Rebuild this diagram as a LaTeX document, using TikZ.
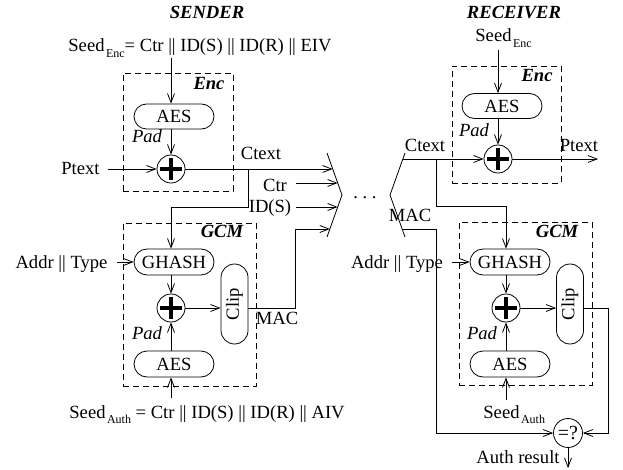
\documentclass[tikz,border=0pt]{standalone}
\usepackage{fontspec}
\setmainfont{Liberation Serif}
\usetikzlibrary{arrows.meta}
\newcommand{\mysub}[1]{\hspace{1.5pt}\raisebox{-5.5pt}{\fontsize{12}{12}\selectfont #1}}
\begin{document}
\begin{tikzpicture}[x=1pt,y=-1pt,
  font=\fontsize{18.6}{20}\selectfont,
  line width=0.8pt,
  >={Straight Barb[length=9pt,width=7pt]},
  lbl/.style={inner sep=0pt, anchor=base},
  bi/.style={lbl, font=\fontsize{18.6}{20}\selectfont\bfseries\itshape},
  itl/.style={lbl, font=\fontsize{18.6}{20}\selectfont\itshape},
  dbox/.style={draw, dash pattern=on 6pt off 4pt, inner sep=0pt},
  rbox/.style={draw, minimum width=80pt, minimum height=25pt, rounded corners=12.5pt, inner sep=0pt},
  rbox2/.style={draw, minimum width=80pt, minimum height=26pt, rounded corners=13pt, inner sep=0pt},
  clipbox/.style={draw, minimum width=27pt, minimum height=80pt, rounded corners=13.5pt, inner sep=0pt},
  xor/.style={draw, circle, minimum size=28pt, inner sep=0pt,
    path picture={\draw[line width=3.5pt]
      ([xshift=-11pt]path picture bounding box.center) -- ([xshift=11pt]path picture bounding box.center)
      ([yshift=-11pt]path picture bounding box.center) -- ([yshift=11pt]path picture bounding box.center);}},
]
\useasboundingbox (0,0) rectangle (623,470);

% ---------------- SENDER ----------------
\node[bi] (sender) at (207,19) {SENDER};
\node[lbl, anchor=base west] (seedS) at (68,52) {Seed\mysub{Enc}= Ctr || ID(S) || ID(R) || EIV};
\coordinate (sEtop) at (171,58);
\node[dbox, minimum width=110pt, minimum height=118pt] (encS) at (178,132) {};
\node[bi] (encSl) at (209,90) {Enc};
\node[rbox] (aesS1) at (174,116.5) {AES};
\node[itl] (padS1) at (147,143) {Pad};
\node[xor] (xorS1) at (171,169) {};
\node[lbl] (ptS) at (80.5,175) {Ptext};
\coordinate (ptSe) at (108,169);
\draw[->] (sEtop) -- (aesS1.north -| xorS1);
\draw[->] (aesS1.south -| xorS1) -- (xorS1.north);
\draw[->] (ptSe) -- (xorS1.west);

% ---------------- CHANNEL ----------------
\coordinate (Lt) at (327,153);
\coordinate (Lm) at (342,195);
\coordinate (Lb) at (327,237);
\draw (Lt) -- (Lm) -- (Lb);
\coordinate (Rt) at (405,153);
\coordinate (Rm) at (390,195);
\coordinate (Rb) at (405,237);
\draw (Rt) -- (Rm) -- (Rb);
\node[lbl] (dots) at (365,199) {.\ .\ .};
\coordinate (c1) at (332.7,169);
\coordinate (c2) at (337.7,183);
\coordinate (c3) at (337.7,207);
\coordinate (c4) at (329.9,229);

\draw[->] (xorS1.east) -- (c1);
\node[lbl] (ctextS) at (261,160) {Ctext};
\node[lbl] (ctr) at (275,192) {Ctr};
\coordinate (ctrs) at (296,183);
\draw[->] (ctrs) -- (c2);
\node[lbl] (ids) at (270,213) {ID(S)};
\coordinate (idss) at (296,207);
\draw[->] (idss) -- (c3);

% sender GCM
\node[dbox, minimum width=133pt, minimum height=163pt] (gcmS) at (189.5,304.5) {};
\node[bi] (gcmSl) at (222,237) {GCM};
\node[rbox2] (ghS) at (174,262) {GHASH};
\node[lbl] (addrS) at (61.5,268) {Addr || Type};
\coordinate (addrSe) at (117,262);
\draw[->] (addrSe) -- (ghS.west);
\node[xor] (xorS2) at (171,308) {};
\coordinate (bS) at (248,169);
\draw[->] (bS) |- (xorS2 |- idss) -- (ghS.north -| xorS2);
\draw[->] (ghS.south -| xorS2) -- (xorS2.north);
\node[clipbox] (clipS) at (234.5,304) {\rotatebox{90}{Clip}};
\draw[->] (xorS2.east) -- (xorS2.east -| clipS.west);
\node[itl] (padS2) at (147,339) {Pad};
\node[rbox2] (aesS2) at (174,364) {AES};
\draw[->] (aesS2.north -| xorS2) -- (xorS2.south);
\node[lbl, anchor=base west] (seedAS) at (69,418) {Seed\mysub{Auth} = Ctr || ID(S) || ID(R) || AIV};
\coordinate (sAtop) at (171,398);
\draw[->] (sAtop) -- (aesS2.south -| xorS2);
\coordinate (macSk) at (295,308);
\draw[->] (xorS2 -| clipS.east) -- (macSk) |- (c4);
\node[lbl] (macS) at (277,324) {MAC};

% ---------------- RECEIVER ----------------
\node[bi] (receiver) at (514,19) {RECEIVER};
\node[lbl, anchor=base west] (seedER) at (475,42) {Seed\mysub{Enc}};
\coordinate (sERtop) at (498,50);
\node[dbox, minimum width=109pt, minimum height=117pt] (encR) at (506.5,124.5) {};
\node[bi] (encRl) at (537,82) {Enc};
\node[rbox] (aesR1) at (502,106) {AES};
\node[itl] (padR1) at (474,137) {Pad};
\node[xor] (xorR1) at (498,159) {};
\draw[->] (sERtop) -- (aesR1.north -| xorR1);
\draw[->] (aesR1.south -| xorR1) -- (xorR1.north);
\coordinate (d1) at (402.9,159);
\draw[->] (d1) -- (xorR1.west);
\node[lbl] (ctextR) at (425,152) {Ctext};
\node[lbl] (ptR) at (579,152) {Ptext};
\coordinate (ptRe) at (598,159);
\draw[->] (xorR1.east) -- (ptRe);

% receiver GCM
\node[dbox, minimum width=133pt, minimum height=163pt] (gcmR) at (525.5,303.5) {};
\node[bi] (gcmRl) at (557,237) {GCM};
\node[rbox2] (ghR) at (510,262) {GHASH};
\node[lbl] (addrR) at (397,268) {Addr || Type};
\coordinate (addrRe) at (452,262);
\draw[->] (addrRe) -- (ghR.west);
\node[xor] (xorR2) at (506,308) {};
\coordinate (bR) at (436,159);
\coordinate (bRk) at (506,206);
\draw[->] (bR) |- (bRk) -- (ghR.north -| xorR2);
\draw[->] (ghR.south -| xorR2) -- (xorR2.north);
\node[clipbox] (clipR) at (570,304) {\rotatebox{90}{Clip}};
\draw[->] (xorR2.east) -- (xorR2.east -| clipR.west);
\node[itl] (padR2) at (482,339) {Pad};
\node[rbox2] (aesR2) at (510,364) {AES};
\draw[->] (aesR2.north -| xorR2) -- (xorR2.south);
\node[lbl, anchor=base west] (seedAR) at (483,418) {Seed\mysub{Auth}};
\coordinate (sARtop) at (506,400);
\draw[->] (sARtop) -- (aesR2.south -| xorR2);
\node[draw, circle, minimum size=29pt, inner sep=0pt, font=\fontsize{20}{20}\selectfont] (eq) at (568,433) {=?};
\coordinate (clipRk) at (608,308);
\draw[->] (xorR2 -| clipR.east) -- (clipRk) |- (eq.east);
\coordinate (d4) at (402,229);
\coordinate (macRk) at (436,229);
\draw[->] (d4) -- (macRk) |- (eq.west);
\node[lbl] (macR) at (410,222) {MAC};
\node[lbl] (authres) at (518,463) {Auth result};
\coordinate (authend) at (568,468);
\draw[->] (eq.south) -- (authend);
\end{tikzpicture}
\end{document}
